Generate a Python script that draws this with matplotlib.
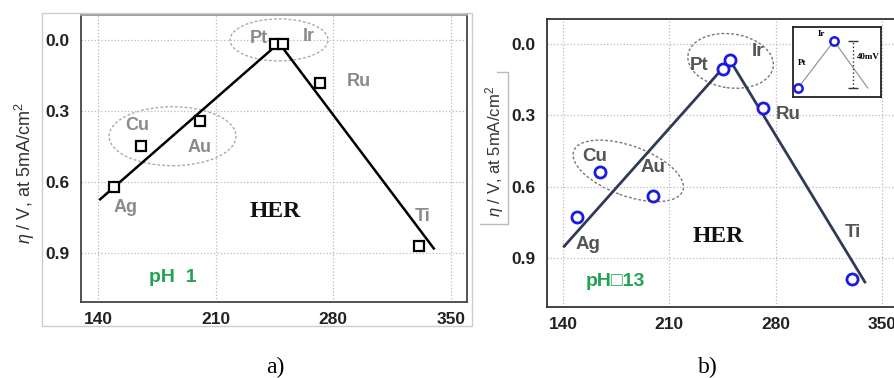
import numpy as np
import matplotlib
matplotlib.use('Agg')
import matplotlib.pyplot as plt
from matplotlib.patches import Ellipse, Rectangle
from matplotlib.transforms import ScaledTranslation
from matplotlib.lines import Line2D

plt.rcParams['font.family'] = ['Liberation Sans', 'DejaVu Sans']
plt.rcParams['mathtext.fontset'] = 'custom'
plt.rcParams['mathtext.rm'] = 'Liberation Sans'
plt.rcParams['mathtext.it'] = 'Liberation Sans:italic'

# data
metals = ['Ag', 'Cu', 'Au', 'Pt', 'Ir', 'Ru', 'Ti']
x_ph1 = [149.6, 165.7, 200.4, 245.3, 250.1, 272.2, 330.9]
eta_ph1 = [0.621, 0.448, 0.342, 0.017, 0.017, 0.182, 0.870]
x_ph13 = [149.2, 164.4, 199.4, 245.0, 249.6, 271.4, 330.2]
eta_ph13 = [0.725, 0.537, 0.638, 0.104, 0.067, 0.270, 0.988]

# volcano lines
fit1_x = [141.2, 247.7, 339.8]
fit1_y = [0.672, 0.013, 0.879]
fit13_left_x = [140.7, 244.0]
fit13_left_y = [0.850, 0.110]
fit13_right_x = [251.0, 338.7]
fit13_right_y = [0.080, 1.000]

xticks = [140, 210, 280, 350]
yticks = [0.0, 0.3, 0.6, 0.9]

# inset (Pt / Ir zoom, mV)
inset_x = [0, 1]
inset_mv = [-40, 0]
inset_line_x = [0, 1, 1.94]
inset_line_mv = [-40, 0, -40]

# label positions (data coords)
lab_a = {'Pt': (235.7, -0.008), 'Ir': (265.6, -0.013), 'Ru': (295.0, 0.177),
         'Cu': (163.3, 0.359), 'Au': (200.4, 0.452), 'Ag': (156.2, 0.706),
         'Ti': (333.2, 0.744)}
lab_b = {'Pt': (229.8, 0.092), 'Ir': (268.1, 0.033), 'Ru': (287.9, 0.296),
         'Cu': (160.5, 0.471), 'Au': (199.4, 0.517), 'Ag': (156.5, 0.842),
         'Ti': (330.8, 0.792)}

W, H = 894, 378
fig = plt.figure(figsize=(W/100, H/100), dpi=100)


def px_ellipse(ax, cx, cy, w, h, ang, color):
    # ellipse sized in pixels, centred on a data point
    tr = fig.dpi_scale_trans + ScaledTranslation(cx, cy, ax.transData)
    e = Ellipse((0, 0), w/100, h/100, angle=ang, transform=tr, fill=False,
                ls=(0, (2, 1.5)), lw=1.0, ec=color)
    ax.add_patch(e)


def style_axes(ax, spine_col, tick_col):
    ax.set_xlim(129.8, 359.6)
    ax.set_ylim(1.105, -0.105)
    ax.set_xticks(xticks)
    ax.set_yticks(yticks)
    ax.set_yticklabels(['%.1f' % v for v in yticks])
    ax.grid(True, ls=':', color='#bbbbbb', lw=0.9)
    ax.tick_params(length=0, labelsize=12.5, colors=tick_col)
    ax.tick_params(axis='x', pad=7)
    ax.tick_params(axis='y', pad=8)
    for lab in ax.get_xticklabels() + ax.get_yticklabels():
        lab.set_fontweight('bold')
    for s in ax.spines.values():
        s.set_color(spine_col)
        s.set_linewidth(1.3)


# outer frame of panel a image
fig.add_artist(Rectangle((42/W, 1-326/H), 430/W, 313/H, transform=fig.transFigure,
                         fill=False, ec='#cccccc', lw=1.0))

# ---- panel a (pH 1)
axa = fig.add_axes([81/W, 1-302/H, 386/W, 287/H])
style_axes(axa, '#444444', '#222222')
axa.spines['top'].set_color('#999999')
axa.plot(fit1_x, fit1_y, color='black', lw=1.8, zorder=3)
axa.plot(x_ph1, eta_ph1, ls='none', marker='s', ms=7, mfc='white', mec='black',
         mew=1.6, zorder=4)
for m in metals:
    axa.text(*lab_a[m], m, ha='center', va='center', fontsize=13,
             fontweight='bold', color='#8a8a8a')
px_ellipse(axa, 184.3, 0.406, 127, 59, 0, '#aaaaaa')
px_ellipse(axa, 247.7, 0.000, 98, 42, 0, '#aaaaaa')
axa.text(245.3, 0.722, 'HER', family='Liberation Serif', fontweight='bold',
         fontsize=17, ha='center', va='center', color='#111111')
axa.text(184.3, 1.0, 'pH  1', fontweight='bold', fontsize=14, color='#22a352',
         ha='center', va='center')
fig.text(25/W, 1-173/H, r'$\eta$ / V, at 5mA/cm$^2$', rotation=90,
         ha='center', va='center', fontsize=13, color='#333333')

# ---- panel b (pH 13)
axb = fig.add_axes([547/W, 1-307/H, 349/W, 288/H])
style_axes(axb, '#333333', '#222222')
axb.set_xlim(129.4, 359.2)
axb.plot(fit13_left_x, fit13_left_y, color='#2f3b55', lw=2.0, zorder=3)
axb.plot(fit13_right_x, fit13_right_y, color='#2f3b55', lw=2.0, zorder=3)
axb.plot(x_ph13, eta_ph13, ls='none', marker='o', ms=8, mfc='white', mec='#1a1ae0',
         mew=2.0, zorder=4)
for m in metals:
    axb.text(*lab_b[m], m, ha='center', va='center', fontsize=13.5,
             fontweight='bold', color='#555555')
px_ellipse(axb, 182.9, 0.533, 116, 50, -20, '#777777')
px_ellipse(axb, 250.3, 0.071, 86, 54, -8, '#777777')
axb.text(242.1, 0.808, 'HER', family='Liberation Serif', fontweight='bold',
         fontsize=17, ha='center', va='center', color='#111111')
axb.text(174.3, 0.996, 'pH\u25a113', fontweight='bold', fontsize=14,
         color='#22a352', ha='center', va='center',
         family=['Liberation Sans', 'DejaVu Sans'])
fig.text(495/W, 1-152/H, r'$\eta$ / V, at 5mA/cm$^2$', rotation=90,
         ha='center', va='center', fontsize=12, color='#333333')
# leftover text-box edge next to the label
fig.add_artist(Line2D([497/W, 508/W, 508/W, 480/W],
                      [1-72/H, 1-72/H, 1-224/H, 1-224/H],
                      transform=fig.transFigure, color='#bbbbbb', lw=1.0))

# inset
axi = fig.add_axes([793/W, 1-97/H, 88/W, 70/H])
axi.set_xlim(-0.14, 2.31)
axi.set_ylim(-47.7, 11.9)
axi.set_xticks([])
axi.set_yticks([])
for s in axi.spines.values():
    s.set_color('#222222')
    s.set_linewidth(1.3)
axi.plot(inset_line_x, inset_line_mv, color='#999999', lw=0.9)
axi.plot(inset_x, inset_mv, ls='none', marker='o', ms=6, mfc='white',
         mec='#1a1ae0', mew=1.8, zorder=4)
axi.plot([1.53, 1.53], [-40, 0], ls=':', color='#333333', lw=1.0)
axi.plot([1.53, 1.53], [-40, 0], ls='none', marker='_', ms=7, mew=1.0,
         color='#333333')
axi.text(1.95, -13.6, '40mV', family='Liberation Serif', fontweight='bold',
         fontsize=6.5, ha='center', va='center')
axi.text(0.11, -18.7, 'Pt', family='Liberation Serif', fontweight='bold',
         fontsize=6.5, ha='center', va='center')
axi.text(0.64, 6.0, 'Ir', family='Liberation Serif', fontweight='bold',
         fontsize=6.5, ha='center', va='center')

# captions
fig.text(275/W, 1-367/H, 'a)', family='Liberation Serif', fontsize=17,
         ha='center', va='center')
fig.text(708/W, 1-367/H, 'b)', family='Liberation Serif', fontsize=17,
         ha='center', va='center')

fig.savefig('out.png', dpi=100)
